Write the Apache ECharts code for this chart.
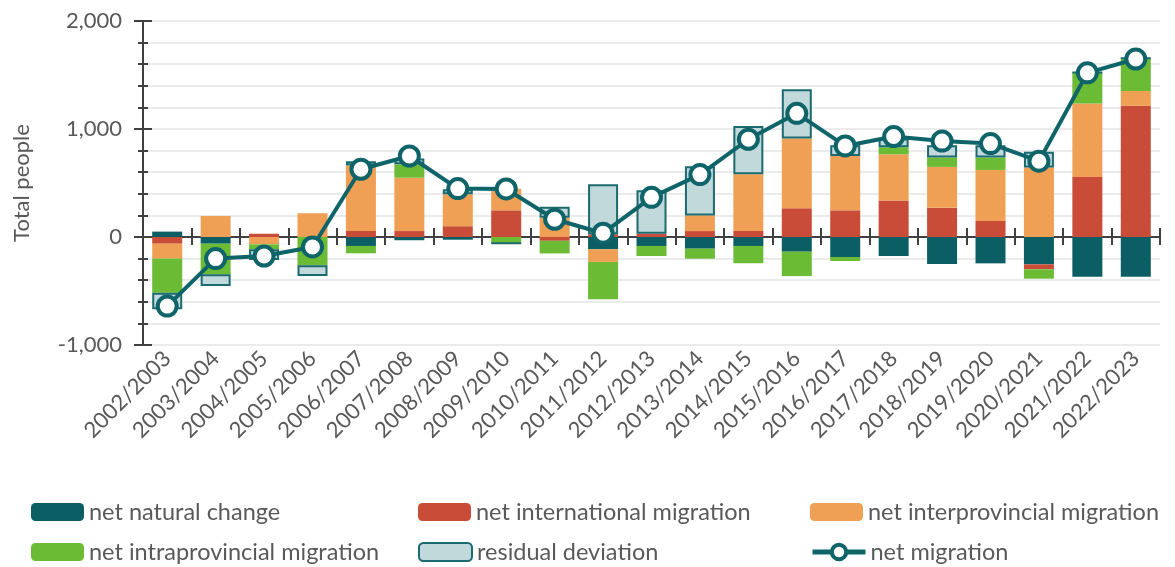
<!DOCTYPE html>
<html>
<head>
<meta charset="utf-8">
<script src="https://cdn.jsdelivr.net/npm/echarts@6/dist/echarts.min.js"></script>
<style>
html,body{margin:0;padding:0;background:#fff;}
#chart{width:1175px;height:567px;}
</style>
</head>
<body>
<div id="chart"></div>
<script>
var categories = ['2002/2003','2003/2004','2004/2005','2005/2006','2006/2007','2007/2008','2008/2009','2009/2010','2010/2011','2011/2012','2012/2013','2013/2014','2014/2015','2015/2016','2016/2017','2017/2018','2018/2019','2019/2020','2020/2021','2021/2022','2022/2023'];
var netNaturalChange = [50, -62, 0, 0, -83, -30, -25, 0, 0, -114, -83, -108, -83, -136, -185, -176, -250, -244, -253, -368, -368];
var netInternational = [-62, 0, 30, 0, 56, 55, 100, 247, -35, 25, 30, 55, 56, 266, 247, 337, 270, 148, -46, 556, 1214];
var netInterprovincial = [-138, 195, -68, 220, 605, 494, 295, 200, 179, -117, 0, 145, 524, 645, 503, 429, 379, 473, 643, 680, 139];
var netIntraprovincial = [-316, -284, -46, -262, -68, 124, 0, -58, -117, -346, -93, -93, -160, -226, -37, 65, 86, 114, -87, 287, 303];
var residualDeviation = [-154, -108, -100, -100, 40, 55, 46, 0, 102, 463, 403, 455, 448, 458, 100, 80, 115, 115, 147, 0, 0];
var netMigration = [-640, -200, -176, -92, 627, 750, 448, 445, 164, 35, 367, 578, 905, 1145, 843, 930, 888, 865, 702, 1520, 1648];
var yTickLabels = ['-1,000', '0', '1,000', '2,000'];

var FONT = 'Lato';
var GREY = '#595959';
var AXIS = '#404040';
var LINE = '#0E6468';
var chart = echarts.init(document.getElementById('chart'), null, {renderer: 'canvas'});

function barSeries(name, data, color, extra) {
  var s = {
    name: name, type: 'bar', stack: 'total', data: data, barWidth: 30,
    xAxisIndex: 0, yAxisIndex: 0,
    itemStyle: {color: color}
  };
  if (extra) { for (var k in extra) s[k] = extra[k]; }
  return s;
}

function legendItem(name, left, top, isLine) {
  var l = {
    show: true, left: left, top: top, selectedMode: false,
    itemWidth: 53, itemHeight: 18, itemGap: 0,
    textStyle: {fontFamily: FONT, fontSize: 23.5, color: GREY, padding: [0, 0, 0, 0]},
    data: [name]
  };
  if (isLine) {
    l.itemStyle = {borderWidth: 4, borderColor: LINE, color: '#ffffff'};
    l.lineStyle = {width: 5, color: LINE};
  }
  return l;
}

var yBase = {
  type: 'value', min: -1000, max: 2000, interval: 1000, position: 'left'
};

var option = {
  animation: false,
  backgroundColor: '#ffffff',
  grid: {left: 143, right: 15, top: 21, bottom: 222, containLabel: false},
  legend: [
    legendItem('net natural change', 26, 495),
    legendItem('net international migration', 413, 495),
    legendItem('net interprovincial migration', 805, 495),
    legendItem('net intraprovincial migration', 26, 535),
    legendItem('residual deviation', 413, 535),
    legendItem('net migration', 805, 535, true)
  ],
  xAxis: [
    {
      type: 'category', data: categories, position: 'bottom',
      axisLine: {show: true, onZero: true, lineStyle: {color: AXIS, width: 2}},
      axisTick: {show: true, length: 8, interval: 0, lineStyle: {color: AXIS, width: 2}},
      axisLabel: {show: false}, splitLine: {show: false}
    },
    {
      type: 'category', data: categories, position: 'top',
      axisLine: {show: false, onZero: true, onZeroAxisIndex: 0},
      axisTick: {show: true, length: 9, interval: 0, lineStyle: {color: AXIS, width: 2}},
      axisLabel: {show: false}, splitLine: {show: false}
    },
    {
      type: 'category', data: categories, position: 'bottom',
      axisLine: {show: false, onZero: false},
      axisTick: {show: false},
      axisLabel: {show: true, interval: 0, rotate: 45, margin: 10, color: GREY, fontFamily: FONT, fontSize: 22},
      splitLine: {show: false}
    }
  ],
  yAxis: [
    Object.assign({}, yBase, {
      name: 'Total people', nameLocation: 'middle', nameGap: 110, nameRotate: 90,
      nameTextStyle: {fontFamily: FONT, fontSize: 22, color: GREY},
      axisLine: {show: true, lineStyle: {color: AXIS, width: 2}},
      axisTick: {show: true, length: 9, lineStyle: {color: AXIS, width: 2}},
      minorTick: {show: true, splitNumber: 5, length: 5, lineStyle: {color: AXIS, width: 2}},
      axisLabel: {show: true, margin: 21, color: GREY, fontFamily: FONT, fontSize: 22,
        formatter: function (v) { return yTickLabels[Math.round((v + 1000) / 1000)]; }},
      splitLine: {show: true, lineStyle: {color: '#EBEBEB', width: 2}},
      minorSplitLine: {show: true, lineStyle: {color: '#EBEBEB', width: 2}}
    }),
    Object.assign({}, yBase, {
      axisLine: {show: false},
      axisTick: {show: true, inside: true, length: 9, lineStyle: {color: AXIS, width: 2}},
      minorTick: {show: true, splitNumber: 5, length: 5, lineStyle: {color: AXIS, width: 2}},
      axisLabel: {show: false},
      splitLine: {show: false}
    })
  ],
  series: [
    barSeries('net natural change', netNaturalChange, '#0B5E63'),
    barSeries('net international migration', netInternational, '#C94C38'),
    barSeries('net interprovincial migration', netInterprovincial, '#F0A055'),
    barSeries('net intraprovincial migration', netIntraprovincial, '#6BBB35'),
    barSeries('residual deviation', residualDeviation, '#C2D9DC', {
      itemStyle: {color: '#C2D9DC', borderColor: '#1A6A70', borderWidth: 2}
    }),
    {
      name: 'net migration', type: 'line', data: netMigration, z: 10,
      xAxisIndex: 0, yAxisIndex: 0,
      symbol: 'circle', symbolSize: 19,
      lineStyle: {color: LINE, width: 4},
      itemStyle: {color: '#ffffff', borderColor: LINE, borderWidth: 4}
    }
  ]
};
chart.setOption(option);
</script>
</body>
</html>
